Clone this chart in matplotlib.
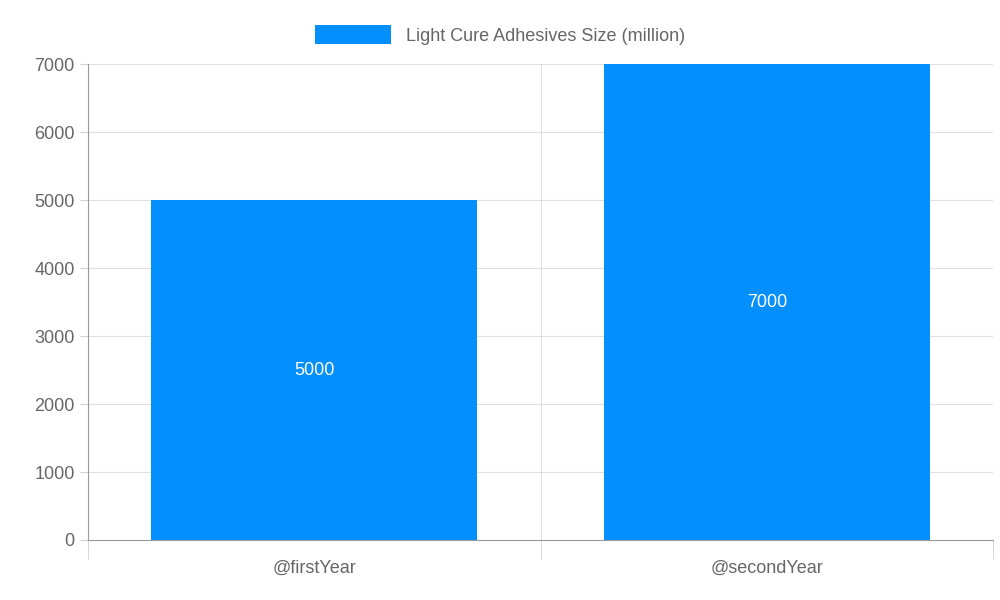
import matplotlib
matplotlib.use("Agg")
import matplotlib.pyplot as plt
from matplotlib.ticker import FixedLocator

categories = ["@firstYear", "@secondYear"]
values = [5000, 7000]
series_name = "Light Cure Adhesives Size (million)"

plt.rcParams['font.family'] = ['Liberation Sans', 'DejaVu Sans']
fig = plt.figure(figsize=(10, 6), dpi=100)
ax = fig.add_axes([0.088, 0.1, 0.905, 0.793])
color = '#038FFE'
x = list(range(len(categories)))
bars = ax.bar(x, values, width=0.72, color=color, label=series_name, zorder=3)
for xi, v in zip(x, values):
    ax.text(xi, v / 2, str(v), ha='center', va='center', color='white', fontsize=13, zorder=4)
ax.set_xlim(-0.5, len(categories) - 0.5)
ax.set_ylim(0, 7000)
ax.set_yticks(range(0, 7001, 1000))
ax.set_xticks(x)
ax.set_xticklabels(categories)
ax.xaxis.set_minor_locator(FixedLocator([i - 0.5 for i in range(len(categories) + 1)]))
ax.tick_params(axis='x', which='major', length=0, labelsize=13, labelcolor='#666666', pad=14)
ax.tick_params(axis='x', which='minor', length=14, color='#d0d0d0')
ax.tick_params(axis='y', length=6, color='#d0d0d0', labelsize=13, labelcolor='#666666')
ax.grid(axis='y', color='#e0e0e0', zorder=0)
ax.grid(axis='x', which='minor', color='#e0e0e0', zorder=0)
for s in ['top', 'right']:
    ax.spines[s].set_visible(False)
ax.spines['left'].set_color('#999999')
ax.spines['bottom'].set_color('#999999')
leg = fig.legend(loc='upper center', bbox_to_anchor=(0.5, 0.985), frameon=False,
                 fontsize=13, handlelength=4.2, handleheight=1.2, labelcolor='#666666')
fig.savefig("out.png", dpi=100)
